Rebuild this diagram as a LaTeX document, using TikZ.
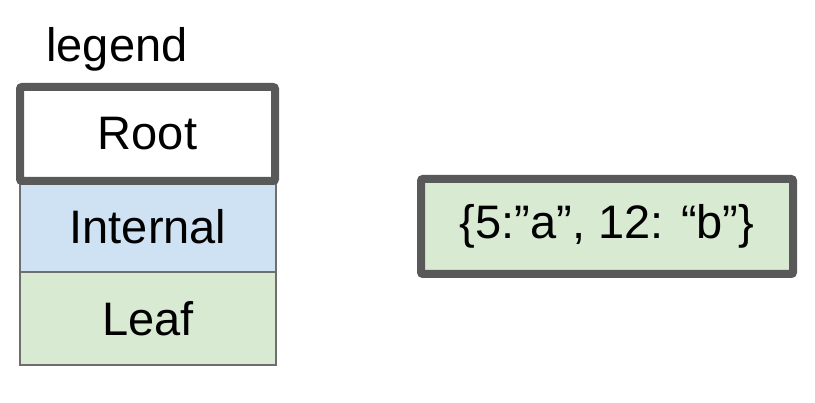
\documentclass[tikz,border=0pt]{standalone}
\usepackage{fontspec}
\setmainfont{Liberation Sans}
\definecolor{edgegrey}{HTML}{595959}
\definecolor{thingrey}{HTML}{6E6E6E}
\definecolor{internalblue}{HTML}{CFE2F3}
\definecolor{leafgreen}{HTML}{D9EAD3}
\begin{document}
\begin{tikzpicture}[x=1pt,y=-1pt,
  bigtext/.style={font=\fontsize{47}{47}\selectfont},
  thinbox/.style={bigtext,draw=thingrey,line width=2pt,minimum width=256pt,minimum height=91pt,inner sep=0pt},
  thickbox/.style={bigtext,draw=edgegrey,line width=8pt,rounded corners=2pt,inner sep=0pt}]
\useasboundingbox (0,0) rectangle (815,403);
\node[thinbox,fill=internalblue] (internal) at (148,226.5) {Internal};
\node[thinbox,fill=leafgreen,minimum height=93pt] (leaf) at (148,318.5) {Leaf};
\node[thickbox,fill=white,minimum width=255pt,minimum height=94pt] (root) at (147.5,134) {Root};
\node[bigtext,inner sep=0pt] (legend) at (117,49) {legend};
\node[thickbox,fill=leafgreen,minimum width=372pt,minimum height=95pt] (dict) at (607,226.5) {\{5:”a”, 12: “b”\}};
\end{tikzpicture}
\end{document}
